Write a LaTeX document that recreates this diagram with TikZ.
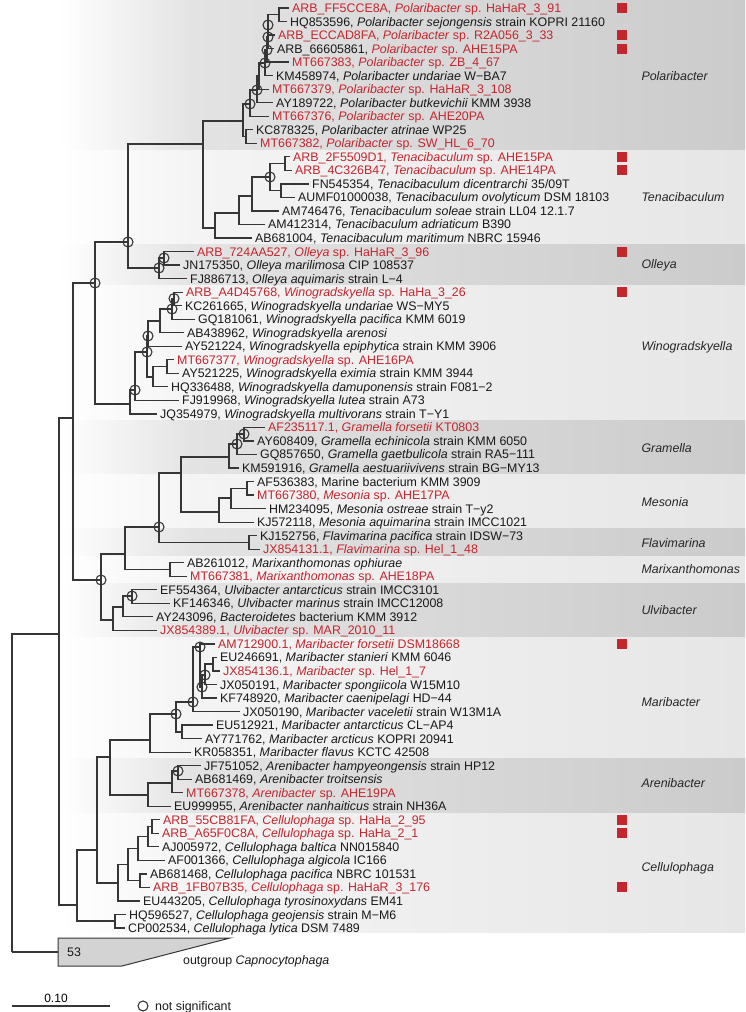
\documentclass[tikz,border=0pt]{standalone}
\usepackage{fontspec}
\setmainfont{Liberation Sans}
\definecolor{arbred}{HTML}{C4262E}
\definecolor{treegray}{HTML}{363636}
\definecolor{darkmid}{HTML}{E3E3E3}
\definecolor{darkend}{HTML}{CBCBCB}
\definecolor{lightmid}{HTML}{F4F4F4}
\definecolor{lightend}{HTML}{E6E6E6}
\definecolor{wedgegray}{HTML}{D3D3D3}
\pgfdeclarehorizontalshading{banddark}{100bp}{color(0bp)=(white); color(29bp)=(white); color(38bp)=(darkmid); color(75bp)=(darkend); color(100bp)=(darkend)}
\pgfdeclarehorizontalshading{bandlight}{100bp}{color(0bp)=(white); color(29bp)=(white); color(38bp)=(lightmid); color(75bp)=(lightend); color(100bp)=(lightend)}
\newcommand{\band}[3]{\shade[shading=#3] (0,#1) rectangle (745,#2);}
\newcommand{\leaf}[5]{%
  \coordinate (#1) at (#3,{8+(#2-1)*13.53});
  \node[taxon, #4] (#1t) at (#1) {#5};
}
\newcommand{\clade}[2]{\foreach \kid in {#2}{\draw[branch] (#1) |- (\kid);}}
\newcommand{\nsmark}[1]{\node[nsig] (ns#1) at (#1) {};}
\tikzset{
  branch/.style={draw=treegray, line width=1.25pt},
  taxon/.style={anchor=west, inner xsep=3pt, inner ysep=0pt, text height=9pt, text depth=0pt, font=\fontsize{12.4}{13}\selectfont},
  refseq/.style={text=black!90},
  newseq/.style={text=arbred},
  nsig/.style={circle, draw=treegray, line width=1.1pt, minimum size=10pt, inner sep=0pt},
  redsq/.style={fill=arbred, minimum size=10pt, inner sep=0pt},
  cladename/.style={anchor=west, font=\fontsize{12.4}{13}\selectfont\itshape, text=black!85}
}

\begin{document}
\begin{tikzpicture}[x=1pt, y=-1pt]
  \useasboundingbox (0,0) rectangle (745,1012);

  % ---------- Background bands ----------
  \band{0}{150}{banddark}
  \band{150}{244.8}{bandlight}
  \band{244.8}{285.3}{banddark}
  \band{285.3}{420.6}{bandlight}
  \band{420.6}{474.8}{banddark}
  \band{474.8}{528.9}{bandlight}
  \band{528.9}{556}{banddark}
  \band{556}{583}{bandlight}
  \band{583}{637.1}{banddark}
  \band{637.1}{758.9}{bandlight}
  \band{758.9}{813}{banddark}
  \band{813}{932}{bandlight}

  % ---------- Leaves ----------
  \leaf{l1}{1}{289}{newseq}{ARB\_FF5CCE8A, \textit{Polaribacter} sp. HaHaR\_3\_91}
  \leaf{l2}{2}{287}{refseq}{HQ853596, \textit{Polaribacter sejongensis} strain KOPRI 21160}
  \leaf{l3}{3}{275}{newseq}{ARB\_ECCAD8FA, \textit{Polaribacter} sp. R2A056\_3\_33}
  \leaf{l4}{4}{274}{refseq}{ARB\_66605861, \textcolor{arbred}{\textit{Polaribacter} sp. AHE15PA}}
  \leaf{l5}{5}{289}{newseq}{MT667383, \textit{Polaribacter} sp. ZB\_4\_67}
  \leaf{l6}{6}{273}{refseq}{KM458974, \textit{Polaribacter undariae} W−BA7}
  \leaf{l7}{7}{269}{newseq}{MT667379, \textit{Polaribacter} sp. HaHaR\_3\_108}
  \leaf{l8}{8}{273}{refseq}{AY189722, \textit{Polaribacter butkevichii} KMM 3938}
  \leaf{l9}{9}{269}{newseq}{MT667376, \textit{Polaribacter} sp. AHE20PA}
  \leaf{l10}{10}{253}{refseq}{KC878325, \textit{Polaribacter atrinae} WP25}
  \leaf{l11}{11}{257}{newseq}{MT667382, \textit{Polaribacter} sp. SW\_HL\_6\_70}
  \leaf{l12}{12}{290}{newseq}{ARB\_2F5509D1, \textit{Tenacibaculum} sp. AHE15PA}
  \leaf{l13}{13}{292}{newseq}{ARB\_4C326B47, \textit{Tenacibaculum} sp. AHE14PA}
  \leaf{l14}{14}{309}{refseq}{FN545354, \textit{Tenacibaculum dicentrarchi} 35/09T}
  \leaf{l15}{15}{295}{refseq}{AUMF01000038, \textit{Tenacibaculum ovolyticum} DSM 18103}
  \leaf{l16}{16}{279}{refseq}{AM746476, \textit{Tenacibaculum soleae} strain LL04 12.1.7}
  \leaf{l17}{17}{265}{refseq}{AM412314, \textit{Tenacibaculum adriaticum} B390}
  \leaf{l18}{18}{252}{refseq}{AB681004, \textit{Tenacibaculum maritimum} NBRC 15946}
  \leaf{l19}{19}{194}{newseq}{ARB\_724AA527, \textit{Olleya} sp. HaHaR\_3\_96}
  \leaf{l20}{20}{180}{refseq}{JN175350, \textit{Olleya marilimosa} CIP 108537}
  \leaf{l21}{21}{187}{refseq}{FJ886713, \textit{Olleya aquimaris} strain L−4}
  \leaf{l22}{22}{183}{newseq}{ARB\_A4D45768, \textit{Winogradskyella} sp. HaHa\_3\_26}
  \leaf{l23}{23}{182}{refseq}{KC261665, \textit{Winogradskyella undariae} WS−MY5}
  \leaf{l24}{24}{195}{refseq}{GQ181061, \textit{Winogradskyella pacifica} KMM 6019}
  \leaf{l25}{25}{184}{refseq}{AB438962, \textit{Winogradskyella arenosi}}
  \leaf{l26}{26}{182}{refseq}{AY521224, \textit{Winogradskyella epiphytica} strain KMM 3906}
  \leaf{l27}{27}{174}{newseq}{MT667377, \textit{Winogradskyella} sp. AHE16PA}
  \leaf{l28}{28}{179}{refseq}{AY521225, \textit{Winogradskyella eximia} strain KMM 3944}
  \leaf{l29}{29}{168}{refseq}{HQ336488, \textit{Winogradskyella damuponensis} strain F081−2}
  \leaf{l30}{30}{179}{refseq}{FJ919968, \textit{Winogradskyella lutea} strain A73}
  \leaf{l31}{31}{157}{refseq}{JQ354979, \textit{Winogradskyella multivorans} strain T−Y1}
  \leaf{l32}{32}{265}{newseq}{AF235117.1, \textit{Gramella forsetii} KT0803}
  \leaf{l33}{33}{254}{refseq}{AY608409, \textit{Gramella echinicola} strain KMM 6050}
  \leaf{l34}{34}{257}{refseq}{GQ857650, \textit{Gramella gaetbulicola} strain RA5−111}
  \leaf{l35}{35}{239}{refseq}{KM591916, \textit{Gramella aestuariivivens} strain BG−MY13}
  \leaf{l36}{36}{254}{refseq}{AF536383, Marine bacterium KMM 3909}
  \leaf{l37}{37}{254}{newseq}{MT667380, \textit{Mesonia} sp. AHE17PA}
  \leaf{l38}{38}{266}{refseq}{HM234095, \textit{Mesonia ostreae} strain T−y2}
  \leaf{l39}{39}{254}{refseq}{KJ572118, \textit{Mesonia aquimarina} strain IMCC1021}
  \leaf{l40}{40}{257}{refseq}{KJ152756, \textit{Flavimarina pacifica} strain IDSW−73}
  \leaf{l41}{41}{260}{newseq}{JX854131.1, \textit{Flavimarina} sp. Hel\_1\_48}
  \leaf{l42}{42}{184}{refseq}{AB261012, \textit{Marixanthomonas ophiurae}}
  \leaf{l43}{43}{187}{newseq}{MT667381, \textit{Marixanthomonas} sp. AHE18PA}
  \leaf{l44}{44}{157}{refseq}{EF554364, \textit{Ulvibacter antarcticus} strain IMCC3101}
  \leaf{l45}{45}{170}{refseq}{KF146346, \textit{Ulvibacter marinus} strain IMCC12008}
  \leaf{l46}{46}{153}{refseq}{AY243096, \textit{Bacteroidetes} bacterium KMM 3912}
  \leaf{l47}{47}{157}{newseq}{JX854389.1, \textit{Ulvibacter} sp. MAR\_2010\_11}
  \leaf{l48}{48}{215}{newseq}{AM712900.1, \textit{Maribacter forsetii} DSM18668}
  \leaf{l49}{49}{217}{refseq}{EU246691, \textit{Maribacter stanieri} KMM 6046}
  \leaf{l50}{50}{220}{newseq}{JX854136.1, \textit{Maribacter} sp. Hel\_1\_7}
  \leaf{l51}{51}{217}{refseq}{JX050191, \textit{Maribacter spongiicola} W15M10}
  \leaf{l52}{52}{217}{refseq}{KF748920, \textit{Maribacter caenipelagi} HD−44}
  \leaf{l53}{53}{240}{refseq}{JX050190, \textit{Maribacter vaceletii} strain W13M1A}
  \leaf{l54}{54}{213}{refseq}{EU512921, \textit{Maribacter antarcticus} CL−AP4}
  \leaf{l55}{55}{202}{refseq}{AY771762, \textit{Maribacter arcticus} KOPRI 20941}
  \leaf{l56}{56}{191}{refseq}{KR058351, \textit{Maribacter flavus} KCTC 42508}
  \leaf{l57}{57}{201}{refseq}{JF751052, \textit{Arenibacter hampyeongensis} strain HP12}
  \leaf{l58}{58}{192}{refseq}{AB681469, \textit{Arenibacter troitsensis}}
  \leaf{l59}{59}{183}{newseq}{MT667378, \textit{Arenibacter} sp. AHE19PA}
  \leaf{l60}{60}{171}{refseq}{EU999955, \textit{Arenibacter nanhaiticus} strain NH36A}
  \leaf{l61}{61}{160}{newseq}{ARB\_55CB81FA, \textit{Cellulophaga} sp. HaHa\_2\_95}
  \leaf{l62}{62}{159}{newseq}{ARB\_A65F0C8A, \textit{Cellulophaga} sp. HaHa\_2\_1}
  \leaf{l63}{63}{159}{refseq}{AJ005972, \textit{Cellulophaga baltica} NN015840}
  \leaf{l64}{64}{165}{refseq}{AF001366, \textit{Cellulophaga algicola} IC166}
  \leaf{l65}{65}{147}{refseq}{AB681468, \textit{Cellulophaga pacifica} NBRC 101531}
  \leaf{l66}{66}{150}{newseq}{ARB\_1FB07B35, \textit{Cellulophaga} sp. HaHaR\_3\_176}
  \leaf{l67}{67}{140}{refseq}{EU443205, \textit{Cellulophaga tyrosinoxydans} EM41}
  \leaf{l68}{68}{126}{refseq}{HQ596527, \textit{Cellulophaga geojensis} strain M−M6}
  \leaf{l69}{69}{125}{refseq}{CP002534, \textit{Cellulophaga lytica} DSM 7489}

  % ---------- Inner nodes ----------
  \coordinate (pA) at (279,14.8);
  \coordinate (pB) at (268,25);
  \coordinate (pC) at (268,37);
  \coordinate (pD) at (267,50);
  \coordinate (pE) at (265,63);
  \coordinate (pF) at (259,76);
  \coordinate (pG) at (257,90);
  \coordinate (pH) at (250,104);
  \coordinate (pI) at (246,136.5);
  \coordinate (pR) at (243,121);
  \coordinate (tA) at (285,163.6);
  \coordinate (tB) at (281,190.7);
  \coordinate (tC) at (270,177);
  \coordinate (tD) at (252,196);
  \coordinate (tE) at (239,213);
  \coordinate (tF) at (215,228);
  \coordinate (nPT) at (203,144);
  \coordinate (oA) at (164,258);
  \coordinate (oB) at (159,268);
  \coordinate (nPTO) at (128,242);
  \coordinate (wA) at (174,298.5);
  \coordinate (wB) at (172,309);
  \coordinate (wC) at (160,321);
  \coordinate (wD) at (148,336);
  \coordinate (wE) at (167,366.5);
  \coordinate (wF) at (153,377);
  \coordinate (wG) at (147,352);
  \coordinate (wH) at (135,390);
  \coordinate (wI) at (130,404);
  \coordinate (nW) at (95,283);
  \coordinate (gA) at (244,434);
  \coordinate (gB) at (237,444);
  \coordinate (gC) at (229,457);
  \coordinate (mA) at (247,488.3);
  \coordinate (mB) at (231,498);
  \coordinate (mC) at (219,512);
  \coordinate (gm) at (181,473);
  \coordinate (fA) at (249,542.4);
  \coordinate (nGMF) at (159,527);
  \coordinate (xA) at (170,569.5);
  \coordinate (nGMFX) at (125,554);
  \coordinate (uA) at (132,596);
  \coordinate (uB) at (123,607);
  \coordinate (uC) at (113,620);
  \coordinate (nU) at (101,580);
  \coordinate (nUp) at (73,418);
  \coordinate (mbB) at (213,664);
  \coordinate (mbC) at (205,675);
  \coordinate (mbD) at (202,687);
  \coordinate (mbE) at (200,647);
  \coordinate (mbF) at (193,702);
  \coordinate (mbH) at (182,732);
  \coordinate (mbG) at (176,714);
  \coordinate (marR) at (150,740);
  \coordinate (aA) at (178,771);
  \coordinate (aB) at (172,783);
  \coordinate (arR) at (148,795);
  \coordinate (nMA) at (110,757);
  \coordinate (cA) at (152,826.5);
  \coordinate (cB) at (148,836.7);
  \coordinate (cC) at (138,848.5);
  \coordinate (cD) at (140,880.7);
  \coordinate (cE) at (128,864.6);
  \coordinate (cF) at (118,883);
  \coordinate (nMAC) at (97,850);
  \coordinate (cG) at (115,921);
  \coordinate (nL) at (77,905);
  \coordinate (nIn) at (59,634);
  \coordinate (root) at (12,952);
  \coordinate (og) at (58,952);

  % ---------- Branches ----------
  \clade{pA}{l1,l2}
  \clade{pB}{pA,l3}
  \clade{pC}{pB,l4}
  \clade{pD}{pC,l5}
  \clade{pE}{pD,l6}
  \clade{pF}{pE,l7}
  \clade{pG}{pF,l8}
  \clade{pH}{pG,l9}
  \clade{pI}{l10,l11}
  \clade{pR}{pH,pI}
  \clade{tA}{l12,l13}
  \clade{tB}{l14,l15}
  \clade{tC}{tA,tB}
  \clade{tD}{tC,l16}
  \clade{tE}{tD,l17}
  \clade{tF}{tE,l18}
  \clade{nPT}{pR,tF}
  \clade{oA}{l19,l20}
  \clade{oB}{oA,l21}
  \clade{nPTO}{nPT,oB}
  \clade{wA}{l22,l23}
  \clade{wB}{wA,l24}
  \clade{wC}{wB,l25}
  \clade{wD}{wC,l26}
  \clade{wE}{l27,l28}
  \clade{wF}{wE,l29}
  \clade{wG}{wD,wF}
  \clade{wH}{wG,l30}
  \clade{wI}{wH,l31}
  \clade{nW}{nPTO,wI}
  \clade{gA}{l32,l33}
  \clade{gB}{gA,l34}
  \clade{gC}{gB,l35}
  \clade{mA}{l36,l37}
  \clade{mB}{mA,l38}
  \clade{mC}{mB,l39}
  \clade{gm}{gC,mC}
  \clade{fA}{l40,l41}
  \clade{nGMF}{gm,fA}
  \clade{xA}{l42,l43}
  \clade{nGMFX}{nGMF,xA}
  \clade{uA}{l44,l45}
  \clade{uB}{uA,l46}
  \clade{uC}{uB,l47}
  \clade{nU}{nGMFX,uC}
  \clade{nUp}{nW,nU}
  \clade{mbB}{l49,l50}
  \clade{mbC}{mbB,l51}
  \clade{mbD}{mbC,l52}
  \clade{mbE}{l48,mbD}
  \clade{mbF}{mbE,l53}
  \clade{mbH}{l54,l55}
  \clade{mbG}{mbF,mbH}
  \clade{marR}{mbG,l56}
  \clade{aA}{l57,l58}
  \clade{aB}{aA,l59}
  \clade{arR}{aB,l60}
  \clade{nMA}{marR,arR}
  \clade{cA}{l61,l62}
  \clade{cB}{cA,l63}
  \clade{cC}{cB,l64}
  \clade{cD}{l65,l66}
  \clade{cE}{cC,cD}
  \clade{cF}{cE,l67}
  \clade{nMAC}{nMA,cF}
  \clade{cG}{l68,l69}
  \clade{nL}{nMAC,cG}
  \clade{nIn}{nUp,nL}
  \clade{root}{nIn,og}

  % ---------- Outgroup ----------
  \filldraw[fill=wedgegray, draw=treegray, line width=1pt] (og |- 0,938) -- (230,938) -- (122,966) -- (og |- 0,966) -- cycle;
  \node[taxon, refseq] (ogn) at (64,952) {53};
  \node[taxon, refseq] (ogt) at (180,960) {outgroup \textit{Capnocytophaga}};

  % ---------- Not significant nodes ----------
  \foreach \n in {pB,pC,pD,pE,pG,pH,tC,oA,oB,nPTO,wA,wB,wD,wG,wH,nW,gA,gB,nGMF,uA,nU,mbE,mbC,mbD,mbF,mbG,aA}{\nsmark{\n}}

  % ---------- Marks and clade names ----------
  \foreach \r in {1,3,4,12,13,19,22,48,61,62,66}
    \node[redsq] (sq\r) at (622,{8+(\r-1)*13.53}) {};

  \node[cladename] (cPol) at (638,76) {Polaribacter};
  \node[cladename] (cTen) at (638,197) {Tenacibaculum};
  \node[cladename] (cOll) at (638,265) {Olleya};
  \node[cladename] (cWin) at (638,347) {Winogradskyella};
  \node[cladename] (cGra) at (638,448) {Gramella};
  \node[cladename] (cMes) at (638,502) {Mesonia};
  \node[cladename] (cFla) at (638,543) {Flavimarina};
  \node[cladename] (cMar) at (638,569) {Marixanthomonas};
  \node[cladename] (cUlv) at (638,610) {Ulvibacter};
  \node[cladename] (cMab) at (638,702) {Maribacter};
  \node[cladename] (cAre) at (638,783) {Arenibacter};
  \node[cladename] (cCel) at (638,868) {Cellulophaga};

  % ---------- Scale bar and legend ----------
  \coordinate (sbL) at (12,1006);
  \coordinate (sbR) at (110,1006);
  \draw[branch] (sbL) -- (sbR);
  \node[font=\fontsize{12}{13}\selectfont] (sbt) at (56,998) {0.10};
  \node[nsig] (lgc) at (143,1006) {};
  \node[taxon, refseq] (lgt) at (152,1006) {not significant};
\end{tikzpicture}
\end{document}
